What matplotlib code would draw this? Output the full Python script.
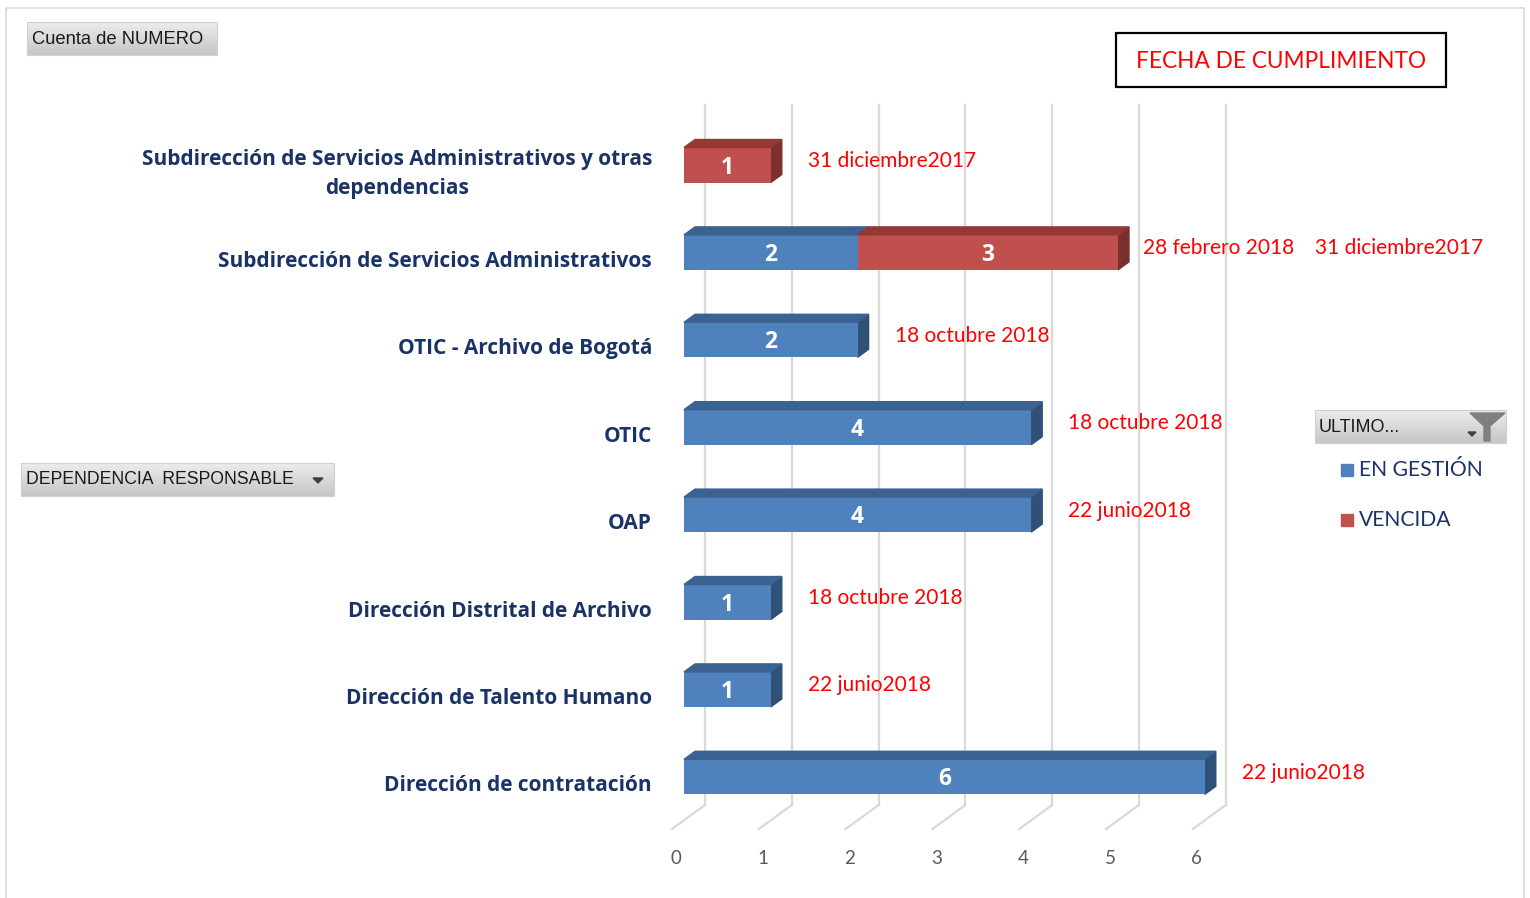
import numpy as np
import matplotlib
matplotlib.use("Agg")
import matplotlib.pyplot as plt
from matplotlib.patches import Polygon, Rectangle

# data
categories = [
    "Subdirección de Servicios Administrativos y otras\ndependencias",
    "Subdirección de Servicios Administrativos",
    "OTIC - Archivo de Bogotá",
    "OTIC",
    "OAP",
    "Dirección Distrital de Archivo",
    "Dirección de Talento Humano",
    "Dirección de contratación",
]
en_gestion = [0, 2, 2, 4, 4, 1, 1, 6]
vencida = [1, 3, 0, 0, 0, 0, 0, 0]
fechas = [
    ["31 diciembre2017"],
    ["28 febrero 2018", "31 diciembre2017"],
    ["18 octubre 2018"],
    ["18 octubre 2018"],
    ["22 junio2018"],
    ["18 octubre 2018"],
    ["22 junio2018"],
    ["22 junio2018"],
]
ticks = [0, 1, 2, 3, 4, 5, 6]

BLUE = ("#4f81bd", "#3c6291", "#2f5077")   # front, top, side
RED = ("#c0504d", "#943735", "#7c302e")
NAVY = "#1a3366"

W, H = 1530, 898
fig = plt.figure(figsize=(W / 100, H / 100), dpi=100)
fig.patch.set_facecolor("white")

# overlay in pixel coords for the pivot-chart furniture
ov = fig.add_axes([0, 0, 1, 1], zorder=0)
ov.set_xlim(0, W)
ov.set_ylim(H, 0)
ov.axis("off")

# data axes: 86.8 px per unit, 87.4 px per category
px_x, px_y = 86.8, 87.4
x0_px, y0_px = 684, 165
xlo, xhi = -1, 8
ylo, yhi = -1, 8
ax = fig.add_axes([(x0_px + xlo * px_x) / W,
                   (H - (y0_px + yhi * px_y)) / H,
                   (xhi - xlo) * px_x / W,
                   (yhi - ylo) * px_y / H], zorder=1)
ax.set_xlim(xlo, xhi)
ax.set_ylim(yhi, ylo)
ax.axis("off")
ax.patch.set_alpha(0)

dx = 11 / px_x      # depth offsets
dy = 8 / px_y
bh = 35 / px_y
back = 21 / px_x

# walls / grid
gy_top, gy_bot = (105 - y0_px) / px_y, (805 - y0_px) / px_y
fy = (829 - y0_px) / px_y
for t in ticks:
    ax.plot([t + back, t + back], [gy_top, gy_bot], color="#d9d9d9", lw=1.6, zorder=1)
    ax.plot([t + back, t - 12 / px_x], [gy_bot, fy], color="#d9d9d9", lw=1.6, zorder=1)
    ax.text(t - 8 / px_x, (858 - y0_px) / px_y, str(t), ha="center", va="center",
            fontsize=13.5, color="#595959", family="Lato")

y = np.arange(len(categories))
left = np.zeros(len(categories))
for vals, cols in ((en_gestion, BLUE), (vencida, RED)):
    vals = np.array(vals, dtype=float)
    bars = ax.barh(y, vals, left=left, height=bh, color=cols[0], zorder=3)
    for b, v in zip(bars, vals):
        if v <= 0:
            continue
        l, r = b.get_x(), b.get_x() + b.get_width()
        yt, yb = b.get_y(), b.get_y() + b.get_height()
        ax.add_patch(Polygon([(l, yt), (r, yt), (r + dx, yt - dy), (l + dx, yt - dy)],
                             closed=True, color=cols[1], zorder=3))
        ax.add_patch(Polygon([(r, yt), (r + dx, yt - dy), (r + dx, yb - dy), (r, yb)],
                             closed=True, color=cols[2], zorder=2.9))
        ax.text((l + r) / 2, (yt + yb) / 2 + 0.03, f"{int(v)}", ha="center", va="center",
                color="white", fontsize=16.5, fontweight="bold", family="Open Sans", zorder=5)
    left = left + vals

totals = left
for i, (cat, tot) in enumerate(zip(categories, totals)):
    ax.text(-32 / px_x, i + 9 / px_y, cat, ha="right", va="center", multialignment="center",
            fontsize=15, fontweight="bold", color=NAVY, family="Open Sans", linespacing=1.5)
    off = 25 if len(fechas[i]) > 1 else 37
    for k, f in enumerate(fechas[i]):
        xx = tot + (off + 172 * k) / px_x
        ax.text(xx, i - 4 / px_y, f, ha="left", va="center", fontsize=15,
                color="#ff0000", family="Lato", zorder=5)


def button(x0, y0, x1, y1):
    g = np.linspace(0, 1, 50).reshape(-1, 1)
    ov.imshow(g, extent=[x0, x1, y1, y0], aspect="auto",
              cmap=matplotlib.colors.LinearSegmentedColormap.from_list("g", ["#ececec", "#c6c6c6"]),
              zorder=1)
    ov.add_patch(Rectangle((x0, y0), x1 - x0, y1 - y0, fill=False, ec="#d0d0d0", lw=0.8, zorder=2))


button(27, 22, 217, 55)
ov.text(32, 39, "Cuenta de NUMERO", ha="left", va="center", fontsize=13.2,
        family="Liberation Sans", color="#1a1a1a", zorder=3)
button(21, 463, 334, 496)
ov.text(26, 480, "DEPENDENCIA  RESPONSABLE", ha="left", va="center", fontsize=12.7,
        family="Liberation Sans", color="#1a1a1a", zorder=3)
ov.add_patch(Polygon([(313, 478), (323, 478), (318, 483)], color="#404040", zorder=3))
button(1315, 410, 1506, 443)
ov.text(1319, 427, "ULTIMO...", ha="left", va="center", fontsize=13,
        family="Liberation Sans", color="#1a1a1a", zorder=3)
ov.add_patch(Polygon([(1468, 432), (1476, 432), (1472, 436)], color="#404040", zorder=3))
ov.add_patch(Polygon([(1470, 413), (1505, 413), (1490, 426), (1490, 441), (1484, 441), (1484, 426)],
                     color="#7f7f7f", zorder=3))
ov.set_xlim(0, W)
ov.set_ylim(H, 0)

# title box
ov.add_patch(Rectangle((1116, 33), 330, 54, fill=False, ec="black", lw=1.6, zorder=3))
ov.text(1281, 61, "FECHA DE CUMPLIMIENTO", ha="center", va="center", fontsize=16.3,
        family="Lato", color="#ff0000", zorder=3)

# legend
for j, (lab, c) in enumerate((("EN GESTIÓN", BLUE[0]), ("VENCIDA", RED[0]))):
    yy = 470 + 50 * j
    ov.add_patch(Rectangle((1341, yy - 6), 12, 12, color=c, zorder=3))
    ov.text(1359, yy, lab, ha="left", va="center", fontsize=15.2, family="Lato",
            color=NAVY, zorder=3)

# outer frame
ov.add_patch(Rectangle((6, 8), 1518, 900, fill=False, ec="#d9d9d9", lw=1.2, zorder=3))

fig.savefig("out.png", dpi=100)
